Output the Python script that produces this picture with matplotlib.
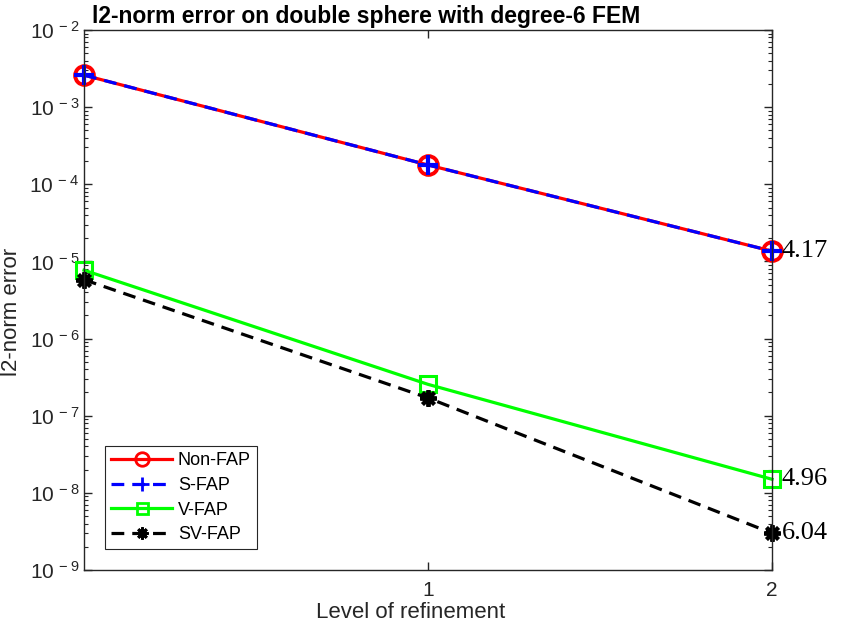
import matplotlib
matplotlib.use("Agg")
import matplotlib.pyplot as plt
from matplotlib.ticker import FixedLocator, NullFormatter, FuncFormatter
import numpy as np

plt.rcParams['font.family'] = ['Liberation Sans', 'DejaVu Sans']
plt.rcParams['mathtext.default'] = 'regular'

# data
levels = [0, 1, 2]
non_fap = [2.6e-3, 1.78e-4, 1.36e-5]
s_fap = [2.6e-3, 1.78e-4, 1.36e-5]
v_fap = [7.7e-6, 2.55e-7, 1.5e-8]
sv_fap = [5.8e-6, 1.7e-7, 3.0e-9]
rates = ['4.17', '4.96', '6.04']

fig = plt.figure(figsize=(8.42, 6.32), dpi=100)
ax = fig.add_axes([0.0998, 0.0981, 0.8171, 0.8544])

lw = 2.3
ax.semilogy(levels, non_fap, '-', color=(1, 0, 0), lw=lw, marker='o', ms=13.5,
            mfc='none', mew=2.8, label='Non-FAP', clip_on=False)
ax.semilogy(levels, s_fap, '--', color=(0, 0, 1), lw=lw, marker='+', ms=14,
            mew=3, dashes=(4, 2.5), label='S-FAP', clip_on=False)
ax.semilogy(levels, v_fap, '-', color=(0, 1, 0), lw=lw, marker='s', ms=11,
            mfc='none', mew=2.2, label='V-FAP', clip_on=False)
ax.semilogy(levels, sv_fap, '--', color='k', lw=lw, marker=(8, 2, 0), ms=12,
            mew=2.8, dashes=(4, 2.5), label='SV-FAP', clip_on=False)

# convergence rates at the last level
for y, txt in zip([non_fap[-1], v_fap[-1], sv_fap[-1]], rates):
    ax.annotate(txt, (levels[-1], y), xytext=(7, 0), textcoords='offset points',
                va='center', ha='left', fontsize=19, family='Liberation Serif',
                annotation_clip=False)

ax.set_xlim(0, 2)
ax.set_ylim(1e-9, 1e-2)
ax.set_xticks([1, 2])
ax.set_xticklabels(['1', '2'])
decades = np.arange(-9, -1)
ax.yaxis.set_major_locator(FixedLocator(10.0 ** decades))
ax.yaxis.set_major_formatter(FuncFormatter(
    lambda v, p: r'$10^{\,%d}$' % int(round(np.log10(v)))))
minor = [m * 10.0 ** d for d in decades[:-1] for m in range(2, 10)]
ax.yaxis.set_minor_locator(FixedLocator(minor))
ax.yaxis.set_minor_formatter(NullFormatter())
ax.tick_params(which='both', direction='in', top=True, right=True,
               labelsize=15, colors='#262626')
ax.tick_params(axis='x', pad=8)
ax.tick_params(which='major', length=6, width=1)
ax.tick_params(which='minor', length=3, width=0.8)
for s in ax.spines.values():
    s.set_color('#262626')
    s.set_linewidth(1)

ax.set_xlabel('Level of refinement', fontsize=16, color='#262626')
ax.xaxis.set_label_coords(0.474, -0.06)
ax.set_ylabel('l2-norm error', fontsize=16, color='#262626')
ax.yaxis.set_label_coords(-0.09, 0.478)
ax.set_title('l2-norm error on double sphere with degree-6 FEM',
             fontsize=16.5, fontweight='bold', x=0.41, pad=5)

leg = ax.legend(loc='lower left', bbox_to_anchor=(0.03, 0.038), fontsize=13,
                handlelength=3.4, fancybox=False, framealpha=1,
                borderpad=0.35, labelspacing=0.42, handletextpad=0.3,
                borderaxespad=0)
leg.get_frame().set_edgecolor('#262626')
leg.get_frame().set_linewidth(0.8)
for h in leg.legend_handles:
    h.set_markersize(h.get_markersize() * 0.72)
    h.set_markeredgewidth(2)

fig.savefig('out.png', dpi=100)
